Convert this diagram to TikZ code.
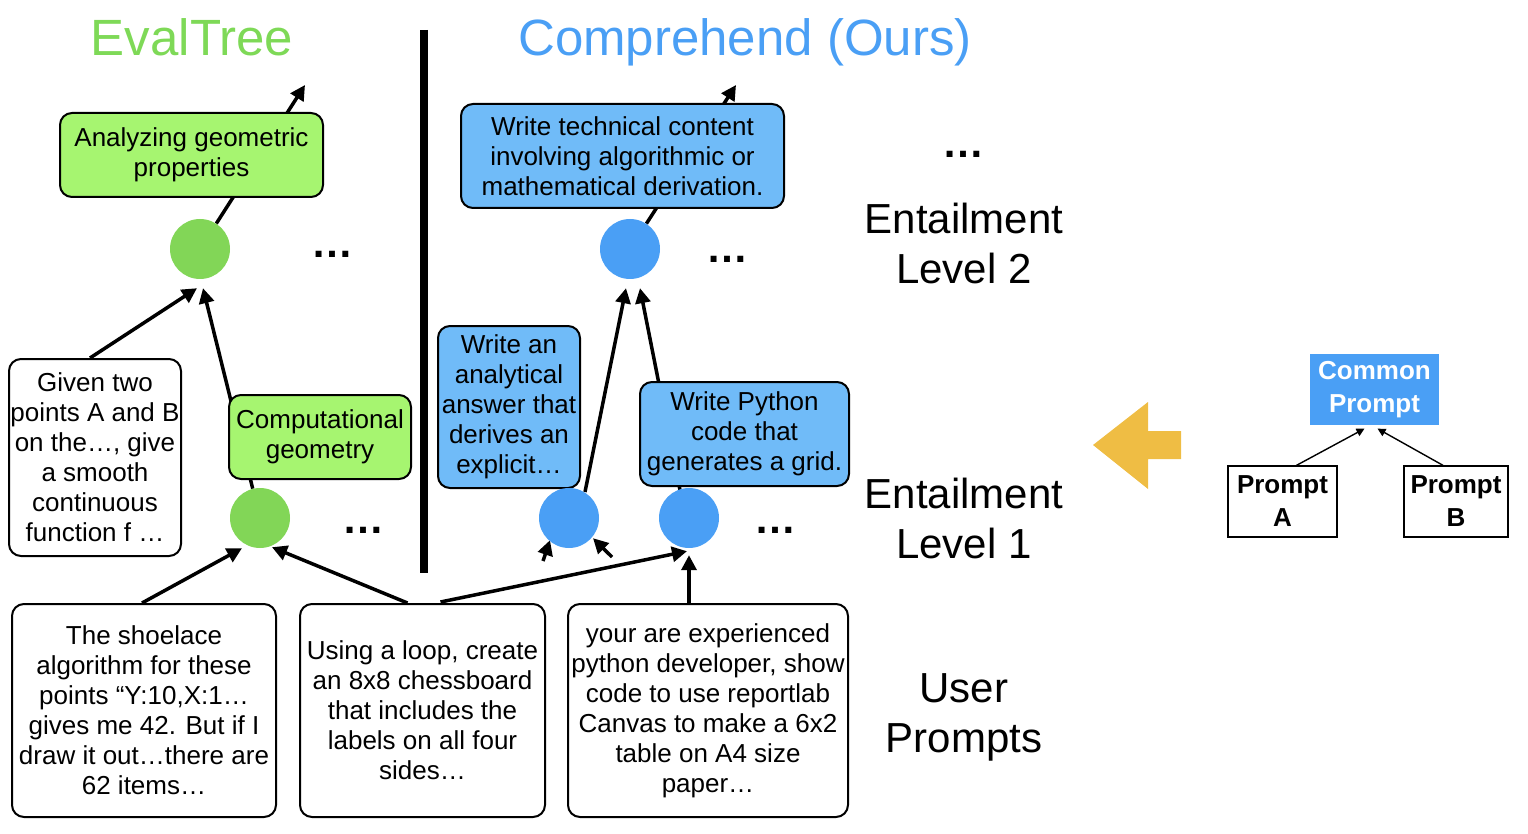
\documentclass[tikz,border=0pt]{standalone}
\usepackage{fontspec}
\setmainfont{Liberation Sans}
\usetikzlibrary{arrows.meta,calc,backgrounds}
\definecolor{gtitle}{RGB}{126,217,87}
\definecolor{gboxc}{RGB}{166,245,112}
\definecolor{gdotc}{RGB}{130,214,87}
\definecolor{bdotc}{RGB}{74,159,245}
\definecolor{bboxc}{RGB}{112,187,248}
\definecolor{yarrow}{RGB}{239,189,68}
\begin{document}
\begin{tikzpicture}[x=1pt,y=-1pt,
  txt/.style={font=\fontsize{26}{30}\selectfont, align=center, inner sep=0pt},
  box/.style={txt, draw=black, line width=2pt, rounded corners=12pt},
  gbox/.style={box, fill=gboxc},
  bbox/.style={box, fill=bboxc},
  wbox/.style={box, fill=white},
  gdot/.style={circle, fill=gdotc, minimum size=60pt, inner sep=0pt},
  bdot/.style={circle, fill=bdotc, minimum size=60pt, inner sep=0pt},
  arr/.style={line width=3.5pt, -{Triangle[length=15pt,width=15pt]}},
  thinarr/.style={line width=1.4pt, -{Triangle[length=8pt,width=8pt]}},
  lbl/.style={font=\fontsize{42}{50}\selectfont, align=center, inner sep=0pt},
  dots/.style={font=\fontsize{42}{50}\selectfont\bfseries, inner sep=0pt, anchor=base},
  ttl/.style={font=\fontsize{51}{60}\selectfont, inner sep=0pt, anchor=base},
  pbox/.style={draw=black, line width=1.3pt, inner sep=0pt, align=center,
    font=\fontsize{26}{33}\selectfont\bfseries}
]
\useasboundingbox (0,0) rectangle (1528,834);

% titles
\node[ttl, text=gtitle] (t1) at (192,56) {EvalTree};
\node[ttl, text=bdotc] (t2) at (745,56) {Comprehend (Ours)};

% separator
\draw[line width=8pt] (424,30) -- (424,573);

% EvalTree side
\node[gbox, minimum width=263pt, minimum height=84pt] (ga) at (191.5,155) {Analyzing geometric\\properties};
\node[gdot] (g2) at (200,249) {};
\node[wbox, minimum width=172pt, minimum height=197pt] (given) at (95,457.5) {Given two\\points A and B\\on the…, give\\a smooth\\continuous\\function f …};
\node[gbox, minimum width=182pt, minimum height=84pt] (gc) at (320,437) {Computational\\geometry};
\node[gdot] (g1) at (260,518) {};

% bottom prompts
\node[wbox, minimum width=264pt, minimum height=213pt] (p1) at (144,710.5) {The shoelace\\algorithm for these\\points “Y:10,X:1…\\gives me 42. But if I\\draw it out…there are\\62 items…};
\node[wbox, minimum width=245pt, minimum height=213pt] (p2) at (422.5,710.5) {Using a loop, create\\an 8x8 chessboard\\that includes the\\labels on all four\\sides…};
\node[wbox, minimum width=280pt, minimum height=213pt] (p3) at (708,710.5) {your are experienced\\python developer, show\\code to use reportlab\\Canvas to make a 6x2\\table on A4 size\\paper…};

% Comprehend side
\node[bbox, minimum width=323pt, minimum height=104pt] (ba) at (622.5,156) {Write technical content\\involving algorithmic or\\mathematical derivation.};
\node[bdot] (b2) at (630,249) {};
\node[bbox, minimum width=142pt, minimum height=162pt] (bx) at (509,407) {Write an\\analytical\\answer that\\derives an\\explicit…};
\node[bbox, minimum width=209pt, minimum height=104pt] (bp) at (744.5,434) {Write Python\\code that\\generates a grid.};
\node[bdot] (b1a) at (569,518) {};
\node[bdot] (b1b) at (689,518) {};

% ellipses
\node[dots] (d1) at (332,258) {…};
\node[dots] (d2) at (363,533) {…};
\node[dots] (d3) at (727,263) {…};
\node[dots] (d4) at (775,533) {…};
\node[dots] (d5) at (963,158) {…};

% level labels
\node[lbl] (l2) at (964,243) {Entailment\\Level 2};
\node[lbl] (l1) at (964,518) {Entailment\\Level 1};
\node[lbl] (lu) at (964,717) {User\\Prompts};

% legend
\draw[fill=yarrow, draw=none] (1093,445) -- (1148,402) -- (1148,431) -- (1181,431) -- (1181,459) -- (1148,459) -- (1148,489) -- cycle;
\node[pbox, draw=none, fill=bdotc, text=white, minimum width=129pt, minimum height=71pt] (cp) at (1374.5,389.5) {Common\\Prompt};
\node[pbox, minimum width=109pt, minimum height=71pt] (pa) at (1282.5,501.5) {Prompt\\A};
\node[pbox, minimum width=104pt, minimum height=71pt] (pb) at (1456,501.5) {Prompt\\B};

\coordinate (gtop) at (305,85);
\coordinate (btop) at (736,85);
\coordinate (s1) at (543,561);
\coordinate (s2) at (612,557);

\begin{pgfonlayer}{background}
\draw[arr] (g2) -- (gtop);
\draw[arr] ($(given.north)+(-5,0)$) -- ($(g2.south)+(-3,9)$);
\draw[arr] (g1) -- ($(g2.south)+(3,9)$);
\draw[arr] ($(p1.north)+(-2,0)$) -- ($(g1.south)+(-18,0)$);
\draw[arr] ($(p2.north)+(-15,0)$) -- ($(g1.south)+(12,-1)$);
\draw[arr] (b2) -- (btop);
\draw[arr] ($(b1a)+(16,-26)$) -- ($(b2.south)+(-4,9)$);
\draw[arr] ($(b1b)+(-9,-28)$) -- ($(b2.south)+(10,9)$);
\draw[arr] ($(p2.north)+(18,-1)$) -- ($(b1b.south)+(-2,3)$);
\draw[arr] (p3.north -| b1b) -- ($(b1b.south)+(0,7)$);
\draw[arr] (s1) -- ($(b1a.south)+(-19,-8)$);
\draw[arr] (s2) -- ($(b1a.south)+(24,-10)$);
\draw[thinarr] ($(pa.north)+(14,0)$) -- ($(cp.south)+(-10,3)$);
\draw[thinarr] ($(pb.north)+(-13,0)$) -- ($(cp.south)+(3,3)$);
\end{pgfonlayer}
\end{tikzpicture}
\end{document}
